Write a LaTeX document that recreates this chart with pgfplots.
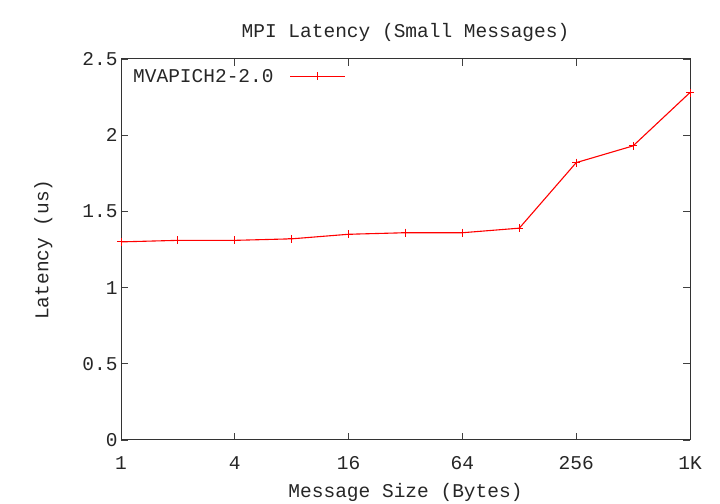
\documentclass[border=0pt]{standalone}
\usepackage{pgfplots}
\pgfplotsset{compat=1.18}
\usepackage{fontspec}
\setmainfont{Liberation Mono}
\begin{document}
\begin{tikzpicture}
\useasboundingbox (0,0) rectangle (720bp,504bp);
\begin{axis}[
  scale only axis,
  width=569bp, height=381bp,
  at={(121bp,64bp)}, anchor=south west,
  xmode=log, log basis x=2,
  xmin=1, xmax=1024,
  ymin=0, ymax=2.5,
  xtick={1,4,16,64,256,1024},
  xticklabels={1,4,16,64,256,1K},
  ytick={0,0.5,1,1.5,2,2.5},
  yticklabels={0,0.5,1,1.5,2,2.5},
  minor tick num=0,
  tick align=inside,
  major tick length=7bp,
  tick style={black!75, line width=0.8bp},
  axis line style={black!80, line width=1bp},
  font=\fontsize{19.5bp}{22bp}\selectfont,
  ticklabel style={font=\fontsize{19.5bp}{22bp}\selectfont, text=black!85},
  xticklabel style={yshift=-13bp},
  yticklabel style={xshift=0bp},
  title={MPI Latency (Small Messages)},
  title style={at={(0.5,1)}, anchor=south, yshift=8bp, text=black!85},
  xlabel={Message Size (Bytes)},
  ylabel={Latency (us)},
  xlabel style={yshift=-7bp, text=black!85},
  ylabel style={yshift=23bp, text=black!85},
  legend style={draw=none, fill=none, at={(0bp,381bp)}, anchor=north west,
    xshift=7bp, yshift=-6bp, font=\fontsize{19.5bp}{22bp}\selectfont,
    legend cell align=right, text=black!85},
  legend plot pos=right,
  every axis legend/.append style={column sep=0bp},
  legend image code/.code={\path (0bp,0bp); \draw[#1] (14bp,0bp) -- (69bp,0bp); \draw[#1, only marks] plot coordinates {(41.5bp,0bp)};},
]
\addplot[red, line width=1.1bp, mark=+, mark size=4bp, mark options={line width=1bp}] coordinates {
(1,1.30) (2,1.31) (4,1.31) (8,1.32) (16,1.35) (32,1.36) (64,1.36) (128,1.39) (256,1.82) (512,1.93) (1024,2.28)
};
\addlegendentry{MVAPICH2-2.0}
\end{axis}
\end{tikzpicture}
\end{document}
